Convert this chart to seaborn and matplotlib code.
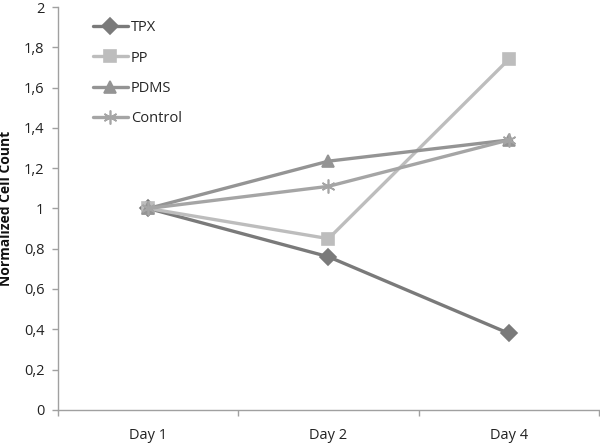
import pandas as pd
import seaborn as sns
import matplotlib.pyplot as plt
from matplotlib.ticker import FixedLocator, FuncFormatter

days = ["Day 1", "Day 2", "Day 4"]
tpx = [1.0, 0.76, 0.38]
pp = [1.0, 0.85, 1.74]
pdms = [1.0, 1.235, 1.34]
control = [1.0, 1.11, 1.34]

series = {"TPX": tpx, "PP": pp, "PDMS": pdms, "Control": control}

sns.set_theme(style="white")
plt.rcParams["font.family"] = ["Open Sans", "DejaVu Sans"]

colors = {"TPX": "#7a7a7a", "PP": "#bdbdbd", "PDMS": "#949494", "Control": "#a5a5a5"}
markers = {"TPX": "D", "PP": "s", "PDMS": "^", "Control": (6, 2, 0)}

fig = plt.figure(figsize=(6, 4.44), dpi=100)
ax = fig.add_axes([0.097, 0.077, 0.901, 0.907])

# eine Linie pro Serie (gefuellte und Strich-Marker lassen sich in seaborn nicht mischen)
for name, vals in series.items():
    d = pd.DataFrame({"Day": days, "Value": vals})
    sns.lineplot(data=d, x="Day", y="Value", color=colors[name], marker=markers[name],
                 sort=False, linewidth=2.4, markersize=8 if name != "Control" else 10,
                 markeredgewidth=1.2, markeredgecolor=colors[name], label=name, ax=ax)

ax.set_xlim(-0.5, 2.5)
ax.set_ylim(0, 2)
ax.set_yticks([0, 0.2, 0.4, 0.6, 0.8, 1.0, 1.2, 1.4, 1.6, 1.8, 2.0])
ax.yaxis.set_major_formatter(FuncFormatter(lambda v, p: f"{v:g}".replace(".", ",")))
ax.xaxis.set_minor_locator(FixedLocator([-0.5, 0.5, 1.5, 2.5]))
ax.tick_params(axis="x", which="major", length=0, pad=13, labelsize=10.5, colors="#222222")
ax.tick_params(axis="x", which="minor", length=4, width=1, color="#a0a0a0", direction="out", bottom=True)
ax.tick_params(axis="y", length=4, width=1, color="#a0a0a0", direction="out", left=True, labelsize=10.5, labelcolor="#222222", pad=6)

ax.set_xlabel("")
ax.set_ylabel("Normalized Cell Count", fontsize=10, fontweight="bold", color="#111111", labelpad=8)

for s in ["top", "right"]:
    ax.spines[s].set_visible(False)
for s in ["left", "bottom"]:
    ax.spines[s].set_color("#a0a0a0")
    ax.spines[s].set_linewidth(1)

leg = ax.legend(loc="upper left", bbox_to_anchor=(0.04, 1.0), frameon=False,
                fontsize=10.5, labelspacing=1.05, handlelength=2.4, handletextpad=0.2)

fig.savefig("out.png", dpi=100)
